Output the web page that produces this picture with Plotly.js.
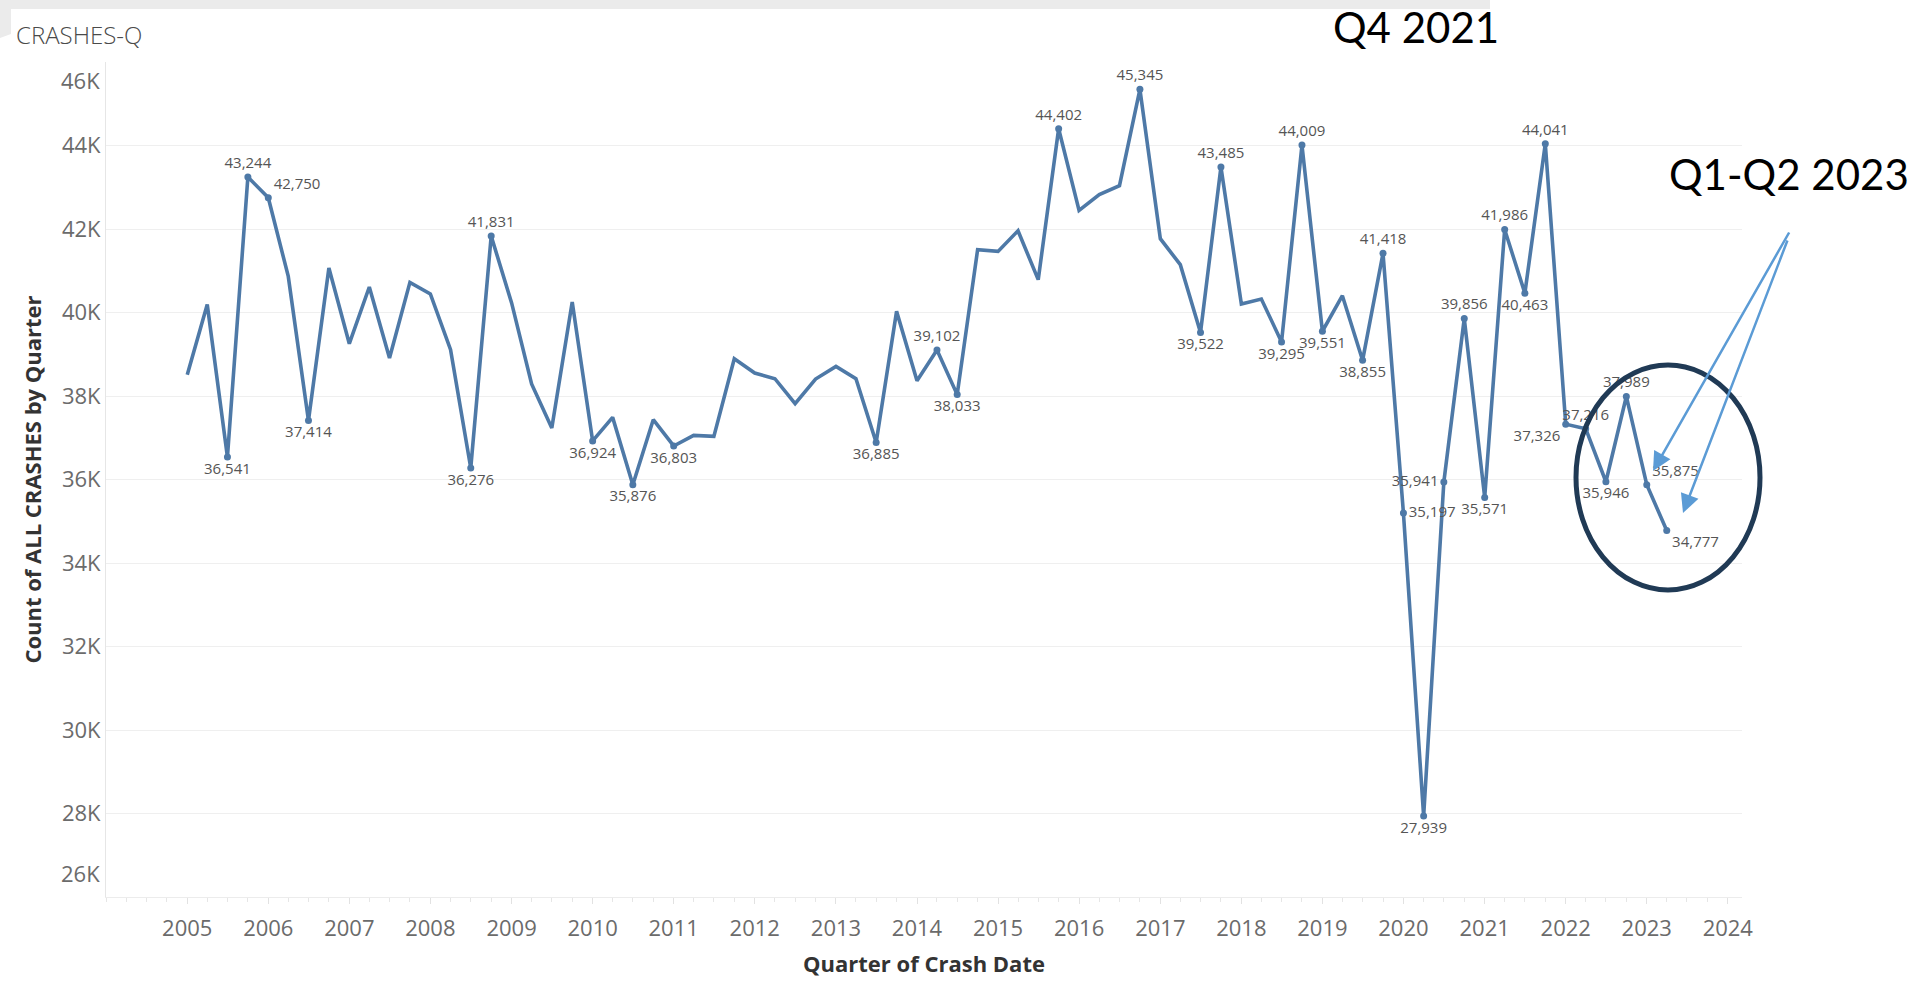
<!DOCTYPE html>
<html>
<head>
<meta charset="utf-8">
<script src="https://cdn.plot.ly/plotly-3.0.1.min.js"></script>
<style>
  html, body { margin: 0; padding: 0; background: #ffffff; }
  #chart { width: 1921px; height: 987px; }
</style>
</head>
<body>
<div id="chart"></div>
<script>
// ---------------- DATA ----------------
const quarters = [
  "2005 Q1","2005 Q2","2005 Q3","2005 Q4",
  "2006 Q1","2006 Q2","2006 Q3","2006 Q4",
  "2007 Q1","2007 Q2","2007 Q3","2007 Q4",
  "2008 Q1","2008 Q2","2008 Q3","2008 Q4",
  "2009 Q1","2009 Q2","2009 Q3","2009 Q4",
  "2010 Q1","2010 Q2","2010 Q3","2010 Q4",
  "2011 Q1","2011 Q2","2011 Q3","2011 Q4",
  "2012 Q1","2012 Q2","2012 Q3","2012 Q4",
  "2013 Q1","2013 Q2","2013 Q3","2013 Q4",
  "2014 Q1","2014 Q2","2014 Q3","2014 Q4",
  "2015 Q1","2015 Q2","2015 Q3","2015 Q4",
  "2016 Q1","2016 Q2","2016 Q3","2016 Q4",
  "2017 Q1","2017 Q2","2017 Q3","2017 Q4",
  "2018 Q1","2018 Q2","2018 Q3","2018 Q4",
  "2019 Q1","2019 Q2","2019 Q3","2019 Q4",
  "2020 Q1","2020 Q2","2020 Q3","2020 Q4",
  "2021 Q1","2021 Q2","2021 Q3","2021 Q4",
  "2022 Q1","2022 Q2","2022 Q3","2022 Q4",
  "2023 Q1","2023 Q2"
];

const crashes = [
  38510, 40190, 36541, 43244,
  42750, 40865, 37414, 41066,
  39253, 40611, 38910, 40721,
  40443, 39109, 36276, 41831,
  40230, 38288, 37234, 40251,
  36924, 37488, 35876, 37432,
  36803, 37057, 37033, 38893,
  38551, 38414, 37815, 38406,
  38710, 38414, 36885, 40027,
  38366, 39102, 38033, 41504,
  41464, 41959, 40786, 44402,
  42446, 42822, 43037, 45345,
  41768, 41145, 39522, 43485,
  40203, 40323, 39295, 44009,
  39551, 40402, 38855, 41418,
  35197, 27939, 35941, 39856,
  35571, 41986, 40463, 44041,
  37326, 37216, 35946, 37989,
  35875, 34777
];

const yTickValues = [26000, 28000, 30000, 32000, 34000, 36000, 38000, 40000, 42000, 44000, 46000];
const yTickLabels = ["26K", "28K", "30K", "32K", "34K", "36K", "38K", "40K", "42K", "44K", "46K"];
const yearLabels = ["2005","2006","2007","2008","2009","2010","2011","2012","2013","2014",
                    "2015","2016","2017","2018","2019","2020","2021","2022","2023","2024"];

// which quarters carry a value label, and where the label sits
const labelPlacement = {
  "2005 Q3": "bottom center", "2005 Q4": "top center",
  "2006 Q1": "top right",     "2006 Q3": "bottom center",
  "2008 Q3": "bottom center", "2008 Q4": "top center",
  "2010 Q1": "bottom center", "2010 Q3": "bottom center",
  "2011 Q1": "bottom center", "2013 Q3": "bottom center",
  "2014 Q2": "top center",    "2014 Q3": "bottom center",
  "2015 Q4": "top center",    "2016 Q4": "top center",
  "2017 Q3": "bottom center", "2017 Q4": "top center",
  "2018 Q3": "bottom center", "2018 Q4": "top center",
  "2019 Q1": "bottom center", "2019 Q3": "bottom center",
  "2019 Q4": "top center",    "2020 Q1": "middle right",
  "2020 Q2": "bottom center", "2020 Q3": "middle left",
  "2020 Q4": "top center",    "2021 Q1": "bottom center",
  "2021 Q2": "top center",    "2021 Q3": "bottom center",
  "2021 Q4": "top center",    "2022 Q1": "bottom left",
  "2022 Q2": "top center",    "2022 Q3": "bottom center",
  "2022 Q4": "top center",    "2023 Q1": "top right",
  "2023 Q2": "bottom right"
};

// ---------------- HELPERS ----------------
function quarterToDate(q) {
  const parts = q.split(" Q");
  const month = (parseInt(parts[1], 10) - 1) * 3 + 1;
  return parts[0] + "-" + String(month).padStart(2, "0") + "-01";
}
const W = 1921, H = 987;
const M = { l: 106, r: 179, t: 62, b: 90 };
const PW = W - M.l - M.r, PH = H - M.t - M.b;
const px = x => (x - M.l) / PW;          // pixel x -> paper x
const py = y => (H - M.b - y) / PH;      // pixel y -> paper y

const xDates = quarters.map(quarterToDate);
const lblIdx = quarters.map((q, i) => i).filter(i => labelPlacement[quarters[i]]);

const LINE = "#4e79a7";
const TICKFONT = { family: "Open Sans, sans-serif", size: 22, color: "#6b6b6b" };

// Tableau pulls the end tick labels inside the pane: draw those two as shifted texts
const endLabelIdx = [0, yTickValues.length - 1];
const endLabelShift = { 0: 24, [yTickValues.length - 1]: -18 };   // pixel shift (up +)
const innerTickText = yTickLabels.map((t, i) => endLabelIdx.includes(i) ? "" : t);

const traces = [
  {
    type: "scatter", mode: "lines",
    x: xDates, y: crashes,
    line: { color: LINE, width: 3.6 },
    hoverinfo: "skip", showlegend: false
  },
  {
    type: "scatter", mode: "markers+text",
    x: lblIdx.map(i => xDates[i]),
    y: lblIdx.map(i => crashes[i]),
    text: lblIdx.map(i => crashes[i].toLocaleString("en-US")),
    textposition: lblIdx.map(i => labelPlacement[quarters[i]]),
    textfont: { family: "Open Sans, sans-serif", size: 15, color: "#555555" },
    marker: { color: LINE, size: 7 },
    cliponaxis: false, hoverinfo: "skip", showlegend: false
  }
];

const annotations = [
  {
    text: "Q4 2021", xref: "paper", yref: "paper",
    x: px(1416), y: py(0), xanchor: "center", yanchor: "top",
    showarrow: false,
    font: { family: "Lato, sans-serif", size: 42, color: "#000000" }
  },
  {
    text: "Q1-Q2 2023", xref: "paper", yref: "paper",
    x: px(1789), y: py(174), xanchor: "center", yanchor: "middle",
    showarrow: false,
    font: { family: "Lato, sans-serif", size: 42, color: "#000000" }
  },
  {
    text: "", xref: "paper", yref: "paper",
    x: px(1653), y: py(471), ax: 137, ay: -240,
    showarrow: true, arrowhead: 2, arrowsize: 1.5, arrowwidth: 2.5,
    arrowcolor: "#5b9bd5", standoff: 0
  },
  {
    text: "", xref: "paper", yref: "paper",
    x: px(1683), y: py(513), ax: 105, ay: -274,
    showarrow: true, arrowhead: 2, arrowsize: 1.5, arrowwidth: 2.5,
    arrowcolor: "#5b9bd5", standoff: 0
  }
];
endLabelIdx.forEach(i => {
  annotations.push({
    text: yTickLabels[i], xref: "paper", yref: "y",
    x: px(102), y: yTickValues[i], yshift: endLabelShift[i],
    xanchor: "right", yanchor: "middle", showarrow: false,
    font: TICKFONT
  });
});

const layout = {
  width: W, height: H,
  margin: M,
  paper_bgcolor: "#ffffff", plot_bgcolor: "#ffffff",
  showlegend: false,
  title: {
    text: "CRASHES-Q",
    xref: "container", yref: "container",
    x: 16 / W, xanchor: "left",
    y: 1 - 36 / H, yanchor: "middle",
    font: { family: "Open Sans, sans-serif", size: 24, color: "#4a4a4a", weight: 300 }
  },
  xaxis: {
    type: "date",
    range: ["2004-01-01", "2024-03-05"],
    tickvals: yearLabels.map(y => y + "-01-01"),
    ticktext: yearLabels,
    tickfont: TICKFONT,
    ticks: "outside", ticklen: 6, tickcolor: "#e2e2e2", tickwidth: 1,
    ticklabelstandoff: 6,
    minor: { dtick: "M3", tick0: "2005-01-01", ticks: "outside", ticklen: 4, tickcolor: "#e6e6e6", showgrid: false },
    showgrid: false, zeroline: false,
    showline: true, linecolor: "#ececec", linewidth: 1,
    title: {
      text: "Quarter of Crash Date",
      font: { family: "Open Sans, sans-serif", size: 22, color: "#333333", weight: 700 },
      standoff: 15
    },
    fixedrange: true
  },
  yaxis: {
    range: [26000, 46000],
    tickvals: yTickValues,
    ticktext: innerTickText,
    tickfont: TICKFONT,
    ticks: "",
    showgrid: true, gridcolor: "#efefef", gridwidth: 1,
    zeroline: false,
    showline: true, linecolor: "#e6e6e6", linewidth: 1,
    title: {
      text: "Count of ALL CRASHES by Quarter",
      font: { family: "Open Sans, sans-serif", size: 22, color: "#333333", weight: 700 },
      standoff: 14
    },
    fixedrange: true
  },
  shapes: [
    {
      type: "path", xref: "paper", yref: "paper", layer: "below",
      path: `M ${px(0)},${py(0)} L ${px(1490)},${py(0)} L ${px(1490)},${py(9)} L ${px(11)},${py(9)} L ${px(11)},${py(34)} L ${px(0)},${py(38)} Z`,
      fillcolor: "#ebebeb", line: { width: 0 }
    },
    {
      type: "circle", xref: "paper", yref: "paper",
      x0: px(1576), x1: px(1760), y0: py(590), y1: py(365),
      line: { color: "#203a55", width: 5 }
    }
  ],
  annotations: annotations
};

Plotly.newPlot("chart", traces, layout, { displayModeBar: false, responsive: false });
</script>
</body>
</html>
